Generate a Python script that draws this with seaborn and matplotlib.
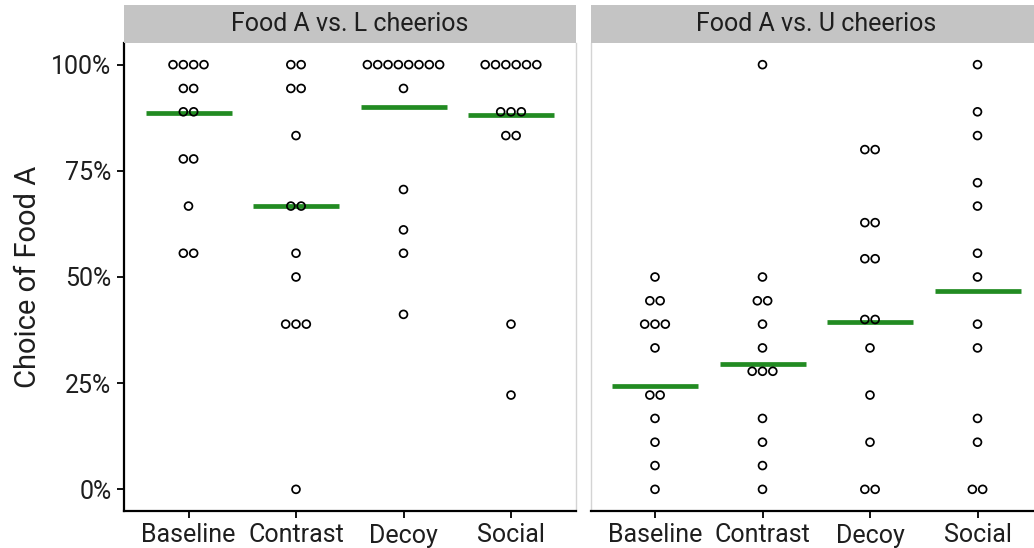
import numpy as np
import pandas as pd
import matplotlib
matplotlib.use("Agg")
import matplotlib.pyplot as plt
from matplotlib.ticker import FuncFormatter
import seaborn as sns

# ---- data -----------------------------------------------------------------
conditions = ["Baseline", "Contrast", "Decoy", "Social"]
panels = ["Food A vs. L cheerios", "Food A vs. U cheerios"]

# per-subject choice of Food A (%), L cheerios comparison
l_baseline = [100, 100, 100, 100, 94.4, 94.4, 88.9, 88.9, 77.8, 77.8, 66.7, 55.6, 55.6]
l_contrast = [100, 100, 94.4, 94.4, 83.3, 66.7, 66.7, 55.6, 50.0, 38.9, 38.9, 38.9, 0.0]
l_decoy = [100, 100, 100, 100, 100, 100, 100, 100, 94.4, 70.6, 61.1, 55.6, 41.2]
l_social = [100, 100, 100, 100, 100, 100, 88.9, 88.9, 88.9, 83.3, 83.3, 38.9, 22.2]

# per-subject choice of Food A (%), U cheerios comparison
u_baseline = [50.0, 44.4, 44.4, 38.9, 38.9, 38.9, 33.3, 22.2, 22.2, 16.7, 11.1, 5.6, 0.0]
u_contrast = [100, 50.0, 44.4, 44.4, 38.9, 33.3, 27.8, 27.8, 27.8, 16.7, 11.1, 5.6, 0.0]
u_decoy = [80.0, 80.0, 62.8, 62.8, 54.3, 54.3, 40.0, 40.0, 33.3, 22.2, 11.1, 0.0, 0.0]
u_social = [100, 88.9, 83.3, 72.2, 66.7, 55.6, 50.0, 38.9, 33.3, 16.7, 11.1, 0.0, 0.0]

# group summary (horizontal bars)
l_center = [88.6, 66.7, 90.0, 88.2]
u_center = [24.3, 29.5, 39.4, 46.8]

y_ticks = [0, 25, 50, 75, 100]

# ---- tidy table with dot-stack offsets -------------------------------------
DOT_STEP = 0.096   # horizontal spacing of stacked dots (category units)
groups = {
    panels[0]: [l_baseline, l_contrast, l_decoy, l_social],
    panels[1]: [u_baseline, u_contrast, u_decoy, u_social],
}
centers = {panels[0]: l_center, panels[1]: u_center}

rows = []
for panel, series in groups.items():
    for ci, (cond, vals) in enumerate(zip(conditions, series)):
        for v in vals:
            rows.append((panel, cond, ci, v))
df = pd.DataFrame(rows, columns=["panel", "condition", "pos", "choice"])
keys = ["panel", "condition", "choice"]
df["k"] = df.groupby(keys).cumcount()
df["n"] = df.groupby(keys)["choice"].transform("size")
df["xpos"] = df["pos"] + (df["k"] - (df["n"] - 1) / 2) * DOT_STEP

# ---- styling ---------------------------------------------------------------
sns.set_style("white")
plt.rcParams["font.family"] = ["Roboto", "DejaVu Sans"]

W, H = 1034, 548
fig = plt.figure(figsize=(W / 100, H / 100), dpi=100)


def px_rect(l, t, r, b):
    return [l / W, 1 - b / H, (r - l) / W, (b - t) / H]


panel_boxes = [(124, 43, 575.5, 511), (590.5, 43, 1042, 511)]
border_gray = "#D4D4D4"
text_col = "#1E1E1E"
tick_size = 18

for i, panel in enumerate(panels):
    l, t, r, b = panel_boxes[i]
    ax = fig.add_axes(px_rect(l, t, r, b))
    sub = df[df["panel"] == panel]

    ax.hlines(centers[panel], np.arange(4) - 0.4, np.arange(4) + 0.4,
              color="#228B22", linewidth=3.4, zorder=2)
    sns.scatterplot(data=sub, x="xpos", y="choice", ax=ax, color="black",
                    facecolors="none", edgecolor="black", linewidth=1.25,
                    s=32, marker="o", zorder=3, legend=False)

    ax.set_xlim(-0.6, 3.6)
    ax.set_ylim(-5.1, 105.1)
    ax.set_xticks(range(4))
    ax.set_xticklabels(conditions)
    ax.set_xlabel("")
    ax.set_yticks(y_ticks)
    ax.yaxis.set_major_formatter(FuncFormatter(lambda v, _: f"{v:.0f}%"))

    ax.spines["top"].set_visible(False)
    ax.spines["right"].set_color(border_gray)
    ax.spines["right"].set_linewidth(1.0)
    ax.spines["bottom"].set_color("black")
    ax.spines["bottom"].set_linewidth(1.6)
    ax.tick_params(axis="x", bottom=True, length=5, width=1.3, color="black",
                   labelsize=tick_size, labelcolor=text_col, pad=4)

    if i == 0:
        ax.spines["left"].set_color("black")
        ax.spines["left"].set_linewidth(1.6)
        ax.tick_params(axis="y", left=True, length=5, width=1.3, color="black",
                       labelsize=tick_size, labelcolor=text_col, pad=4)
        ax.set_ylabel("Choice of Food A", fontsize=21, color=text_col, labelpad=7)
    else:
        ax.spines["left"].set_color(border_gray)
        ax.spines["left"].set_linewidth(1.0)
        ax.tick_params(axis="y", left=False, labelleft=False)
        ax.set_ylabel("")

    # facet strip
    sax = fig.add_axes(px_rect(l, 5, r, 43))
    sax.set_facecolor("#C4C4C4")
    for sp in sax.spines.values():
        sp.set_visible(False)
    sax.set_xticks([])
    sax.set_yticks([])
    sax.text(0.5, 0.5, panel, transform=sax.transAxes, ha="center", va="center",
             fontsize=18, color=text_col)

fig.savefig("out.png", dpi=100)
